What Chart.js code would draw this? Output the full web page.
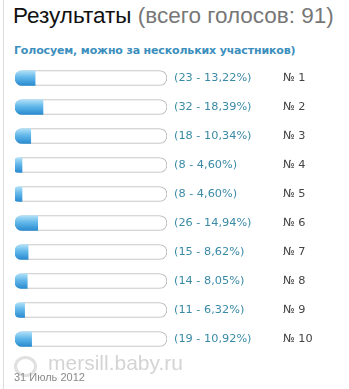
<!DOCTYPE html>
<html>
<head>
<meta charset="utf-8">
<script src="https://cdn.jsdelivr.net/npm/chart.js@4/dist/chart.umd.min.js"></script>
<style>
  html, body { margin:0; padding:0; background:#fff; }
  #wrap { position:relative; width:349px; height:389px; overflow:hidden; }
  #wrap:before { content:""; position:absolute; left:3px; top:0; bottom:0; width:1px; background:#dcdcdc; }
  canvas { position:absolute; left:0; top:0; }
  .title { position:absolute; left:13px; top:3px; font:22.5px "Liberation Sans", Arial, sans-serif; color:#111; white-space:nowrap; }
  .title span { color:#777; }
  .sub { position:absolute; left:14px; top:44px; font:bold 11px "DejaVu Sans", sans-serif; color:#3c8fbd; white-space:nowrap; letter-spacing:-0.15px; }
  .mark { position:absolute; left:48px; top:351px; font:21px "Liberation Sans", Arial, sans-serif; color:#d4d4d4; }
  .logo { position:absolute; left:14px; top:356px; width:17px; height:15px; border:3px solid #e0e0e0; border-radius:50%; }
  .date { position:absolute; left:14px; top:371px; font:11px "Liberation Sans", Arial, sans-serif; color:#8a8a8a; }
</style>
</head>
<body>
<div id="wrap">
  <div class="title">Результаты <span>(всего голосов: 91)</span></div>
  <div class="sub">Голосуем, можно за нескольких участников)</div>
  <canvas id="poll" width="349" height="389"></canvas>
  <div class="logo"></div>
  <div class="mark">mersill.baby.ru</div>
  <div class="date">31 Июль 2012</div>
</div>
<script>
// poll results
const options = ["№ 1","№ 2","№ 3","№ 4","№ 5","№ 6","№ 7","№ 8","№ 9","№ 10"];
const votes = [23, 32, 18, 8, 8, 26, 15, 14, 11, 19];
const percents = [13.22, 18.39, 10.34, 4.60, 4.60, 14.94, 8.62, 8.05, 6.32, 10.92];
const track = options.map(()=>100);

function fillColor(ctx){
  const chart = ctx.chart;
  const y = chart.scales && chart.scales.y;
  if(!chart.chartArea || !y || ctx.dataIndex === undefined) return "#4aa6e0";
  const c = y.getPixelForValue(ctx.dataIndex);
  const g = chart.ctx.createLinearGradient(0, c-7.5, 0, c+7.5);
  g.addColorStop(0, "#b3e1f8");
  g.addColorStop(0.45, "#62b8ea");
  g.addColorStop(1, "#2a8bd0");
  return g;
}

const labelsPlugin = {
  id: "pollLabels",
  afterDatasetsDraw(chart){
    const ctx = chart.ctx, y = chart.scales.y, right = chart.chartArea.right;
    ctx.save();
    ctx.textBaseline = "middle";
    ctx.textAlign = "left";
    options.forEach((name, i)=>{
      const py = y.getPixelForValue(i);
      ctx.font = "11.3px 'DejaVu Sans', sans-serif";
      ctx.fillStyle = "#3a8aa6";
      ctx.fillText(`(${votes[i]} - ${percents[i].toFixed(2).replace(".", ",")}%)`, right + 7, py);
      ctx.fillStyle = "#444";
      ctx.fillText(name, right + 116, py);
    });
    ctx.restore();
  }
};

new Chart(document.getElementById("poll"), {
  type: "bar",
  data: {
    labels: options,
    datasets: [
      { data: percents, backgroundColor: fillColor, borderWidth: 0, barThickness: 15,
        borderRadius: {topLeft:7.5, bottomLeft:7.5, topRight:0, bottomRight:0}, borderSkipped: false, order: 0 },
      { data: track, backgroundColor: "#fff", borderColor: "#b9b9b9", borderWidth: 1, barThickness: 15,
        borderRadius: 7.5, borderSkipped: false, order: 1 }
    ]
  },
  options: {
    indexAxis: "y",
    responsive: false,
    animation: false,
    layout: { padding: { left: 15, right: 182, top: 63.5, bottom: 35.5 } },
    scales: {
      x: { display: false, min: 0, max: 100 },
      y: { display: false, stacked: false }
    },
    datasets: { bar: { grouped: false } },
    plugins: { legend: { display: false }, tooltip: { enabled: false } }
  },
  plugins: [labelsPlugin]
});
</script>
</body>
</html>
